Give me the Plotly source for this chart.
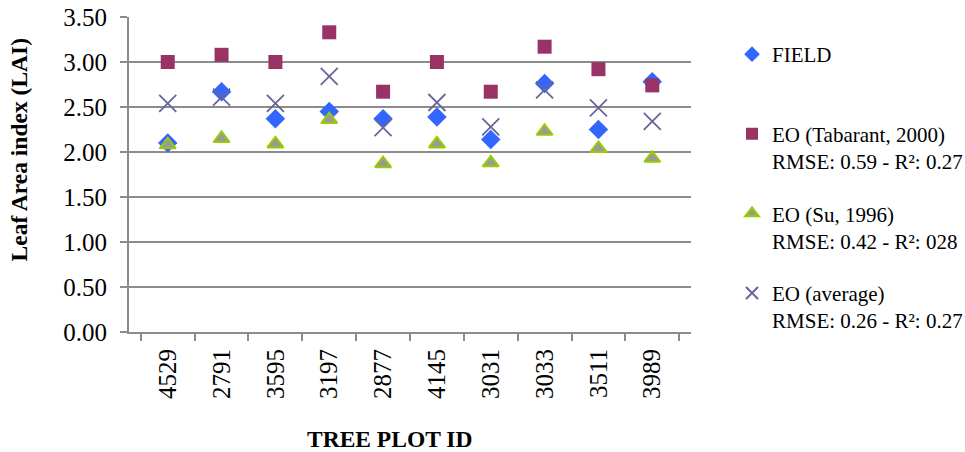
import plotly.graph_objects as go

# Tree plot identifiers (category axis)
plot_ids = ["4529", "2791", "3595", "3197", "2877", "4145", "3031", "3033", "3511", "3989"]

# Leaf Area Index per tree plot
field_lai = [2.10, 2.67, 2.37, 2.45, 2.37, 2.39, 2.14, 2.76, 2.25, 2.78]
eo_tabarant = [3.00, 3.08, 3.00, 3.33, 2.67, 3.00, 2.67, 3.17, 2.92, 2.74]
eo_su = [2.08, 2.15, 2.09, 2.36, 1.87, 2.09, 1.88, 2.23, 2.04, 1.93]
eo_average = [2.54, 2.61, 2.54, 2.84, 2.27, 2.55, 2.28, 2.69, 2.49, 2.34]

series_names = [
    "FIELD<br> ",
    "EO (Tabarant, 2000)<br>RMSE: 0.59 - R²: 0.27",
    "EO (Su, 1996)<br>RMSE: 0.42 - R²: 028",
    "EO (average)<br>RMSE: 0.26 - R²: 0.27",
]

y_ticks = [0.0, 0.5, 1.0, 1.5, 2.0, 2.5, 3.0, 3.5]

SERIF = "Liberation Serif"
GRID = "#8c8c8c"

fig = go.Figure()

fig.add_trace(go.Scatter(
    x=plot_ids, y=field_lai, mode="markers", name=series_names[0],
    legendgroup="g1",
    marker=dict(symbol="diamond", size=15, color="#3366ff"),
))
fig.add_trace(go.Scatter(
    x=plot_ids, y=eo_tabarant, mode="markers", name=series_names[1],
    legendgroup="g2",
    marker=dict(symbol="square", size=14, color="#993366"),
))
fig.add_trace(go.Scatter(
    x=plot_ids, y=eo_su, mode="markers", name=series_names[2],
    legendgroup="g3",
    marker=dict(symbol="triangle-up", size=14, color="#999999",
                line=dict(color="#99cc00", width=2)),
))
fig.add_trace(go.Scatter(
    x=plot_ids, y=eo_average, mode="markers", name=series_names[3],
    legendgroup="g4",
    marker=dict(symbol="x-thin-open", size=17, color="#666699",
                line=dict(color="#666699", width=1.8)),
))

fig.update_layout(
    width=965, height=452,
    margin=dict(l=129, r=274, t=17, b=120, autoexpand=False),
    paper_bgcolor="white", plot_bgcolor="white",
    font=dict(family=SERIF, color="black"),
    showlegend=True,
    legend=dict(
        x=1.073, xanchor="left", y=0.946, yanchor="top",
        font=dict(family=SERIF, size=21, color="black"),
        valign="top", tracegroupgap=22, traceorder="grouped",
        itemsizing="constant", bgcolor="rgba(0,0,0,0)",
    ),
    xaxis=dict(
        type="category", categoryorder="array", categoryarray=plot_ids,
        showgrid=False, showline=True, linecolor=GRID, linewidth=2,
        ticks="outside", tickson="boundaries", ticklen=7, tickwidth=2, tickcolor=GRID,
        tickangle=-90, tickfont=dict(family=SERIF, size=25, color="black"),
        ticklabelstandoff=5, automargin=False,
    ),
    yaxis=dict(
        range=[0, 3.5], tickvals=y_ticks, tickformat=".2f",
        showgrid=True, gridcolor=GRID, gridwidth=2,
        showline=True, linecolor=GRID, linewidth=2,
        ticks="outside", ticklen=7, tickwidth=2, tickcolor=GRID,
        tickfont=dict(family=SERIF, size=25, color="black"),
        ticklabelstandoff=8, zeroline=False, automargin=False,
    ),
    annotations=[
        dict(text="<b>TREE PLOT ID</b>", xref="paper", yref="paper",
             x=0.463, y=-0.34, xanchor="center", yanchor="middle",
             showarrow=False, font=dict(family=SERIF, size=23.5, color="black")),
        dict(text="<b>Leaf Area index (LAI)</b>", xref="paper", yref="paper",
             x=-0.196, y=0.579, xanchor="center", yanchor="middle",
             textangle=-90, showarrow=False,
             font=dict(family=SERIF, size=23.5, color="black")),
    ],
)

fig.write_html("out.html")
